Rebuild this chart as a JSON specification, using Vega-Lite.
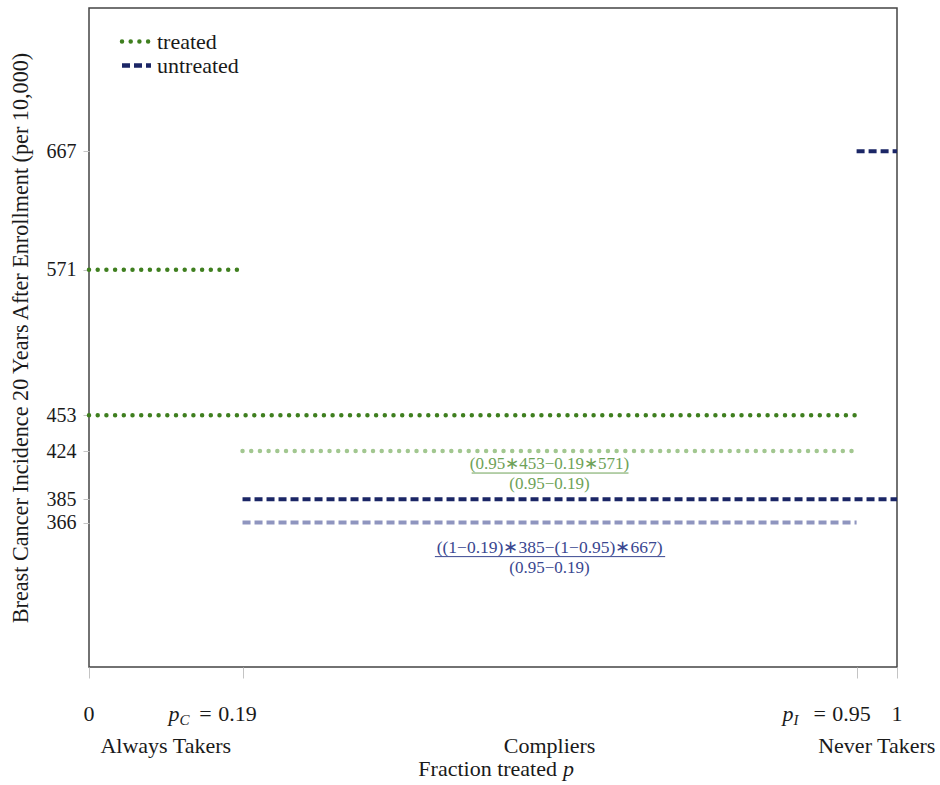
{
  "$schema": "https://vega.github.io/schema/vega-lite/v6.json",
  "width": 808,
  "height": 659,
  "autosize": {"type": "none"},
  "padding": {"left": 89, "top": 8, "right": 43, "bottom": 118},
  "background": "white",
  "config": {
    "view": {"stroke": "#444444", "strokeWidth": 1.5},
    "font": "Liberation Serif",
    "axis": {
      "grid": false,
      "domain": false,
      "tickColor": "#c4c4c4",
      "tickWidth": 1,
      "labelFont": "Liberation Serif",
      "titleFont": "Liberation Serif",
      "labelColor": "#1a1a1a",
      "titleColor": "#1a1a1a",
      "titleFontWeight": "normal"
    },
    "legend": {
      "labelFont": "Liberation Serif",
      "labelFontSize": 22,
      "labelColor": "#1a1a1a",
      "symbolType": "M-1.45,0H1.45",
      "symbolSize": 400,
      "symbolStrokeWidth": 4.5,
      "labelOffset": 8,
      "rowPadding": 0,
      "padding": 0
    }
  },
  "datasets": {
    "lines": [
      {"series": "treated", "x": 0, "x2": 0.19, "y": 571},
      {"series": "treated", "x": 0, "x2": 0.95, "y": 453},
      {"series": "untreated", "x": 0.19, "x2": 1, "y": 385},
      {"series": "untreated", "x": 0.95, "x2": 1, "y": 667}
    ],
    "bounds": [
      {"name": "treated compliers", "x": 0.19, "x2": 0.95, "y": 424},
      {"name": "untreated compliers", "x": 0.19, "x2": 0.95, "y": 366}
    ],
    "fractions": [
      {"name": "treated compliers", "x": 0.57, "y": 424, "xl": 0.4736, "xr": 0.6677, "num": "(0.95∗453−0.19∗571)", "den": "(0.95−0.19)"},
      {"name": "untreated compliers", "x": 0.57, "y": 366, "xl": 0.4281, "xr": 0.7131, "num": "((1−0.19)∗385−(1−0.95)∗667)", "den": "(0.95−0.19)"}
    ],
    "endticks": [
      {"x": 0, "label": "0"},
      {"x": 1, "label": "1"}
    ],
    "midticks": [
      {"x": 0.19, "label": "0.19", "sub": "C"},
      {"x": 0.95, "label": "0.95", "sub": "I"}
    ],
    "groups": [
      {"x": 0.095, "label": "Always Takers"},
      {"x": 0.57, "label": "Compliers"},
      {"x": 0.975, "label": "Never Takers"}
    ],
    "xtitle": [
      {"x": 0.5, "label": "Fraction treated", "var": "p"}
    ]
  },
  "layer": [
    {
      "data": {"name": "lines"},
      "transform": [{"filter": "datum.series === 'treated'"}],
      "mark": {"type": "rule", "strokeWidth": 4.5, "strokeCap": "round"},
      "encoding": {
        "x": {"field": "x", "type": "quantitative", "scale": {"domain": [0, 1], "nice": false, "zero": false},
              "axis": {"values": [0, 0.19, 0.95, 1], "labels": false, "tickSize": 11, "title": null}},
        "x2": {"field": "x2"},
        "y": {"field": "y", "type": "quantitative", "scale": {"domain": [249, 783], "nice": false, "zero": false},
              "axis": {"values": [366, 385, 424, 453, 571, 667], "labelFontSize": 20, "tickSize": 6, "labelPadding": 7,
                       "labelOverlap": false, "labelFlush": false,
                       "title": "Breast Cancer Incidence 20 Years After Enrollment (per 10,000)", "titleFontSize": 22.2, "titlePadding": 14}},
        "color": {"field": "series", "type": "nominal",
                  "scale": {"domain": ["treated", "untreated"], "range": ["#3f7f1f", "#1b2666"]},
                  "legend": {"orient": "none", "legendX": 35, "legendY": 21, "title": null,
                             "encode": {"symbols": {"update": {"strokeCap": {"signal": "datum.value === 'treated' ? 'round' : 'butt'"}}}}}},
        "strokeDash": {"field": "series", "type": "nominal",
                       "scale": {"domain": ["treated", "untreated"], "range": [[0, 8.7], [8, 4]]},
                       "legend": {"orient": "none", "legendX": 35, "legendY": 21, "title": null,
                                  "encode": {"symbols": {"update": {"strokeCap": {"signal": "datum.value === 'treated' ? 'round' : 'butt'"}}}}}}
      }
    },
    {
      "data": {"name": "lines"},
      "transform": [{"filter": "datum.series === 'untreated'"}],
      "mark": {"type": "rule", "strokeWidth": 4, "strokeCap": "butt"},
      "encoding": {
        "x": {"field": "x", "type": "quantitative"},
        "x2": {"field": "x2"},
        "y": {"field": "y", "type": "quantitative"},
        "color": {"field": "series", "type": "nominal"},
        "strokeDash": {"field": "series", "type": "nominal"}
      }
    },
    {
      "data": {"name": "bounds"},
      "transform": [{"filter": "datum.name === 'treated compliers'"}],
      "mark": {"type": "rule", "strokeWidth": 4.5, "strokeCap": "round", "strokeDash": [0, 8.7], "color": "#a2c790"},
      "encoding": {
        "x": {"field": "x", "type": "quantitative"},
        "x2": {"field": "x2"},
        "y": {"field": "y", "type": "quantitative"}
      }
    },
    {
      "data": {"name": "bounds"},
      "transform": [{"filter": "datum.name === 'untreated compliers'"}],
      "mark": {"type": "rule", "strokeWidth": 4, "strokeCap": "butt", "strokeDash": [8, 4], "color": "#8f95bf"},
      "encoding": {
        "x": {"field": "x", "type": "quantitative"},
        "x2": {"field": "x2"},
        "y": {"field": "y", "type": "quantitative"}
      }
    },
    {
      "data": {"name": "fractions"},
      "transform": [{"filter": "datum.name === 'treated compliers'"}],
      "mark": {"type": "text", "font": "Liberation Serif", "fontSize": 17, "color": "#6ea257", "baseline": "alphabetic", "align": "center", "dy": 18},
      "encoding": {
        "x": {"field": "x", "type": "quantitative"},
        "y": {"field": "y", "type": "quantitative"},
        "text": {"field": "num"}
      }
    },
    {
      "data": {"name": "fractions"},
      "transform": [{"filter": "datum.name === 'treated compliers'"}],
      "mark": {"type": "rule", "strokeWidth": 1, "color": "#6ea257", "yOffset": 22},
      "encoding": {
        "x": {"field": "xl", "type": "quantitative"},
        "x2": {"field": "xr"},
        "y": {"field": "y", "type": "quantitative"}
      }
    },
    {
      "data": {"name": "fractions"},
      "transform": [{"filter": "datum.name === 'treated compliers'"}],
      "mark": {"type": "text", "font": "Liberation Serif", "fontSize": 17, "color": "#6ea257", "baseline": "alphabetic", "align": "center", "dy": 38},
      "encoding": {
        "x": {"field": "x", "type": "quantitative"},
        "y": {"field": "y", "type": "quantitative"},
        "text": {"field": "den"}
      }
    },
    {
      "data": {"name": "fractions"},
      "transform": [{"filter": "datum.name === 'untreated compliers'"}],
      "mark": {"type": "text", "font": "Liberation Serif", "fontSize": 17.5, "color": "#3a4790", "baseline": "alphabetic", "align": "center", "dy": 30},
      "encoding": {
        "x": {"field": "x", "type": "quantitative"},
        "y": {"field": "y", "type": "quantitative"},
        "text": {"field": "num"}
      }
    },
    {
      "data": {"name": "fractions"},
      "transform": [{"filter": "datum.name === 'untreated compliers'"}],
      "mark": {"type": "rule", "strokeWidth": 1, "color": "#3a4790", "yOffset": 34},
      "encoding": {
        "x": {"field": "xl", "type": "quantitative"},
        "x2": {"field": "xr"},
        "y": {"field": "y", "type": "quantitative"}
      }
    },
    {
      "data": {"name": "fractions"},
      "transform": [{"filter": "datum.name === 'untreated compliers'"}],
      "mark": {"type": "text", "font": "Liberation Serif", "fontSize": 17, "color": "#3a4790", "baseline": "alphabetic", "align": "center", "dy": 50},
      "encoding": {
        "x": {"field": "x", "type": "quantitative"},
        "y": {"field": "y", "type": "quantitative"},
        "text": {"field": "den"}
      }
    },
    {
      "data": {"name": "endticks"},
      "mark": {"type": "text", "font": "Liberation Serif", "fontSize": 22, "color": "#1a1a1a", "baseline": "alphabetic", "align": "center", "dy": 54},
      "encoding": {
        "x": {"field": "x", "type": "quantitative"},
        "y": {"datum": 249, "type": "quantitative"},
        "text": {"field": "label"}
      }
    },
    {
      "data": {"name": "midticks"},
      "mark": {"type": "text", "font": "Liberation Serif", "fontSize": 22, "color": "#1a1a1a", "baseline": "alphabetic", "align": "center", "dx": -5, "dy": 54},
      "encoding": {
        "x": {"field": "x", "type": "quantitative"},
        "y": {"datum": 249, "type": "quantitative"},
        "text": {"field": "label"}
      }
    },
    {
      "data": {"name": "midticks"},
      "mark": {"type": "text", "font": "Liberation Serif", "fontSize": 22, "color": "#1a1a1a", "baseline": "alphabetic", "align": "center", "dx": -37, "dy": 54, "text": "="},
      "encoding": {
        "x": {"field": "x", "type": "quantitative"},
        "y": {"datum": 249, "type": "quantitative"}
      }
    },
    {
      "data": {"name": "midticks"},
      "mark": {"type": "text", "font": "Liberation Serif", "fontSize": 22, "fontStyle": "italic", "color": "#1a1a1a", "baseline": "alphabetic", "align": "left", "dx": -74, "dy": 54, "text": "p"},
      "encoding": {
        "x": {"field": "x", "type": "quantitative"},
        "y": {"datum": 249, "type": "quantitative"}
      }
    },
    {
      "data": {"name": "midticks"},
      "mark": {"type": "text", "font": "Liberation Serif", "fontSize": 15, "fontStyle": "italic", "color": "#1a1a1a", "baseline": "alphabetic", "align": "left", "dx": -63, "dy": 58},
      "encoding": {
        "x": {"field": "x", "type": "quantitative"},
        "y": {"datum": 249, "type": "quantitative"},
        "text": {"field": "sub"}
      }
    },
    {
      "data": {"name": "groups"},
      "mark": {"type": "text", "font": "Liberation Serif", "fontSize": 22, "color": "#1a1a1a", "baseline": "alphabetic", "align": "center", "dy": 86},
      "encoding": {
        "x": {"field": "x", "type": "quantitative"},
        "y": {"datum": 249, "type": "quantitative"},
        "text": {"field": "label"}
      }
    },
    {
      "data": {"name": "xtitle"},
      "mark": {"type": "text", "font": "Liberation Serif", "fontSize": 22, "color": "#1a1a1a", "baseline": "alphabetic", "align": "right", "dx": 64, "dy": 109},
      "encoding": {
        "x": {"field": "x", "type": "quantitative"},
        "y": {"datum": 249, "type": "quantitative"},
        "text": {"field": "label"}
      }
    },
    {
      "data": {"name": "xtitle"},
      "mark": {"type": "text", "font": "Liberation Serif", "fontSize": 22, "fontStyle": "italic", "color": "#1a1a1a", "baseline": "alphabetic", "align": "left", "dx": 70, "dy": 109},
      "encoding": {
        "x": {"field": "x", "type": "quantitative"},
        "y": {"datum": 249, "type": "quantitative"},
        "text": {"field": "var"}
      }
    }
  ]
}
